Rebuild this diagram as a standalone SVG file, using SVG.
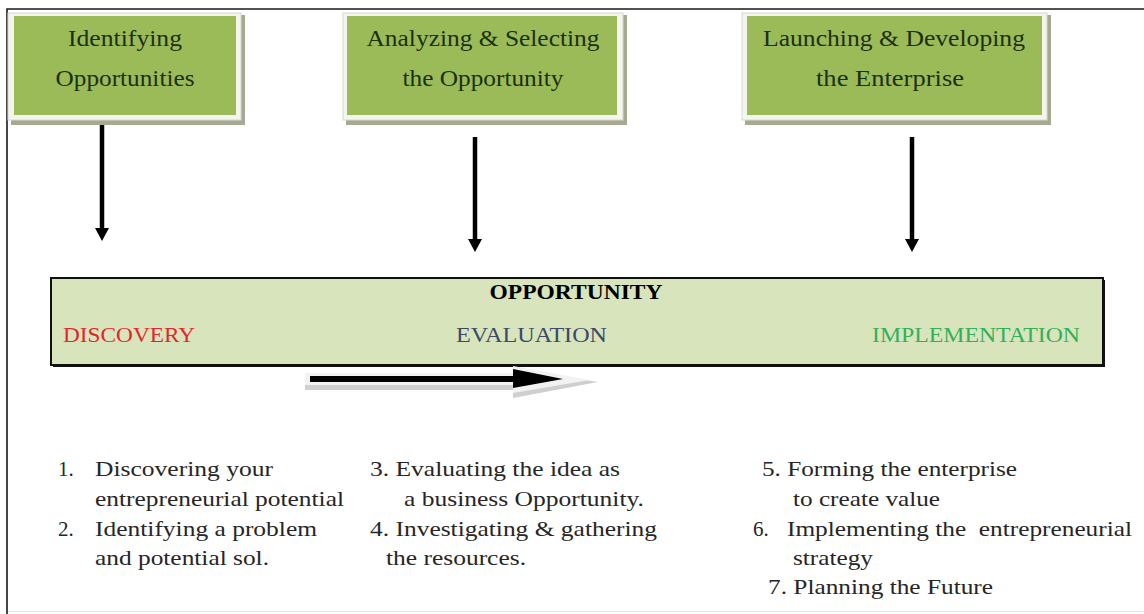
<svg xmlns="http://www.w3.org/2000/svg" width="1144" height="614" viewBox="0 0 1144 614">
  <style>
    .shadow { fill: #a5aa91; }
    .frame { fill: #f3f5ee; stroke: #d6d9cc; stroke-width: 1; }
    .green { fill: #9bbb59; }
    .hdr { font-family: "Liberation Serif", "Times New Roman", serif; font-size: 23px; fill: #1c300d; }
    .bar { font-family: "Liberation Serif", "Times New Roman", serif; font-size: 21px; }
    .lst { font-family: "Liberation Serif", "Times New Roman", serif; font-size: 21px; fill: #262626; white-space: pre; }
    .conn { stroke: #000; stroke-width: 4.5; fill: none; }
  </style>
  <defs>
    <marker id="head" markerUnits="userSpaceOnUse" viewBox="0 0 14 14" markerWidth="14" markerHeight="14" refX="1" refY="7" orient="auto">
      <path d="M0,0 L13,7 L0,14 z" fill="#000"/>
    </marker>
  </defs>
  <rect width="1144" height="614" fill="#ffffff"/>
  <path d="M7,614 L7,9 L1144,9" fill="none" stroke="#1a1a1a" stroke-width="1.6"/>
  <line x1="8" y1="611.5" x2="1144" y2="611.5" stroke="#e6e6e6" stroke-width="1"/>

  <g id="box-identifying">
    <rect class="shadow" x="11" y="15" width="234" height="110"/>
    <rect class="frame" x="8" y="13" width="233" height="107"/>
    <rect class="green" x="14" y="16" width="222" height="99"/>
    <text class="hdr" x="125" y="46" text-anchor="middle" textLength="114" lengthAdjust="spacingAndGlyphs">Identifying</text>
    <text class="hdr" x="125" y="86" text-anchor="middle" textLength="139" lengthAdjust="spacingAndGlyphs">Opportunities</text>
  </g>

  <g id="box-analyzing">
    <rect class="shadow" x="346" y="15" width="281" height="110"/>
    <rect class="frame" x="343" y="13" width="280" height="107"/>
    <rect class="green" x="347" y="16" width="270" height="99"/>
    <text class="hdr" x="483" y="46" text-anchor="middle" textLength="233" lengthAdjust="spacingAndGlyphs">Analyzing &amp; Selecting</text>
    <text class="hdr" x="483" y="86" text-anchor="middle" textLength="161" lengthAdjust="spacingAndGlyphs">the Opportunity</text>
  </g>

  <g id="box-launching">
    <rect class="shadow" x="745" y="15" width="306" height="110"/>
    <rect class="frame" x="742" y="13" width="305" height="107"/>
    <rect class="green" x="747" y="16" width="295" height="99"/>
    <text class="hdr" x="894" y="46" text-anchor="middle" textLength="262" lengthAdjust="spacingAndGlyphs">Launching &amp; Developing</text>
    <text class="hdr" x="890" y="86" text-anchor="middle" textLength="148" lengthAdjust="spacingAndGlyphs">the Enterprise</text>
  </g>

  <g id="box-opportunity">
    <rect x="53" y="280" width="1052" height="87" fill="#111"/>
    <rect x="51" y="278" width="1052" height="87" fill="#d8e4bc" stroke="#111" stroke-width="2"/>
    <text class="bar" x="576" y="299" text-anchor="middle" font-weight="bold" fill="#000" textLength="173" lengthAdjust="spacingAndGlyphs">OPPORTUNITY</text>
    <text class="bar" x="63" y="342" fill="#e3262b" textLength="132" lengthAdjust="spacingAndGlyphs">DISCOVERY</text>
    <text class="bar" x="456" y="342" fill="#3b4a66" textLength="151" lengthAdjust="spacingAndGlyphs">EVALUATION</text>
    <text class="bar" x="872" y="342" fill="#33b05a" textLength="208" lengthAdjust="spacingAndGlyphs">IMPLEMENTATION</text>
  </g>

  <g id="connectors">
    <line class="conn" x1="102" y1="125" x2="102" y2="229" marker-end="url(#head)"/>
    <line class="conn" x1="475" y1="137" x2="475" y2="240" marker-end="url(#head)"/>
    <line class="conn" x1="912" y1="137" x2="912" y2="240" marker-end="url(#head)"/>
    <g id="flow-arrow">
      <polygon points="305,383 513,383 513,369 598,382 513,398 513,390 305,390" fill="#cfcfcf"/>
      <polygon points="305,373 513,373 513,366 590,380 513,393 513,385 305,385" fill="#f2f2f2"/>
      <polygon points="310,376 513,376 513,369 563,379 513,388 513,382 310,382" fill="#000"/>
    </g>
  </g>

  <g id="list-discovery">
    <text class="lst" x="58" y="476">1.</text>
    <text class="lst" x="95" y="476" textLength="178" lengthAdjust="spacingAndGlyphs">Discovering your</text>
    <text class="lst" x="95" y="506" textLength="249" lengthAdjust="spacingAndGlyphs">entrepreneurial potential</text>
    <text class="lst" x="58" y="536">2.</text>
    <text class="lst" x="95" y="536" textLength="222" lengthAdjust="spacingAndGlyphs">Identifying a problem</text>
    <text class="lst" x="95" y="565" textLength="174" lengthAdjust="spacingAndGlyphs">and potential sol.</text>
  </g>

  <g id="list-evaluation">
    <text class="lst" x="370" y="476" textLength="250" lengthAdjust="spacingAndGlyphs">3. Evaluating the idea as</text>
    <text class="lst" x="404" y="506" textLength="240" lengthAdjust="spacingAndGlyphs">a business Opportunity.</text>
    <text class="lst" x="370" y="536" textLength="287" lengthAdjust="spacingAndGlyphs">4. Investigating &amp; gathering</text>
    <text class="lst" x="386" y="565" textLength="140" lengthAdjust="spacingAndGlyphs">the resources.</text>
  </g>

  <g id="list-implementation">
    <text class="lst" x="762" y="476" textLength="255" lengthAdjust="spacingAndGlyphs">5. Forming the enterprise</text>
    <text class="lst" x="793" y="506" textLength="147" lengthAdjust="spacingAndGlyphs">to create value</text>
    <text class="lst" x="753" y="536">6.</text>
    <text class="lst" x="787" y="536" textLength="345" lengthAdjust="spacingAndGlyphs">Implementing the  entrepreneurial</text>
    <text class="lst" x="793" y="565" textLength="80" lengthAdjust="spacingAndGlyphs">strategy</text>
    <text class="lst" x="768" y="594" textLength="225" lengthAdjust="spacingAndGlyphs">7. Planning the Future</text>
  </g>
</svg>
